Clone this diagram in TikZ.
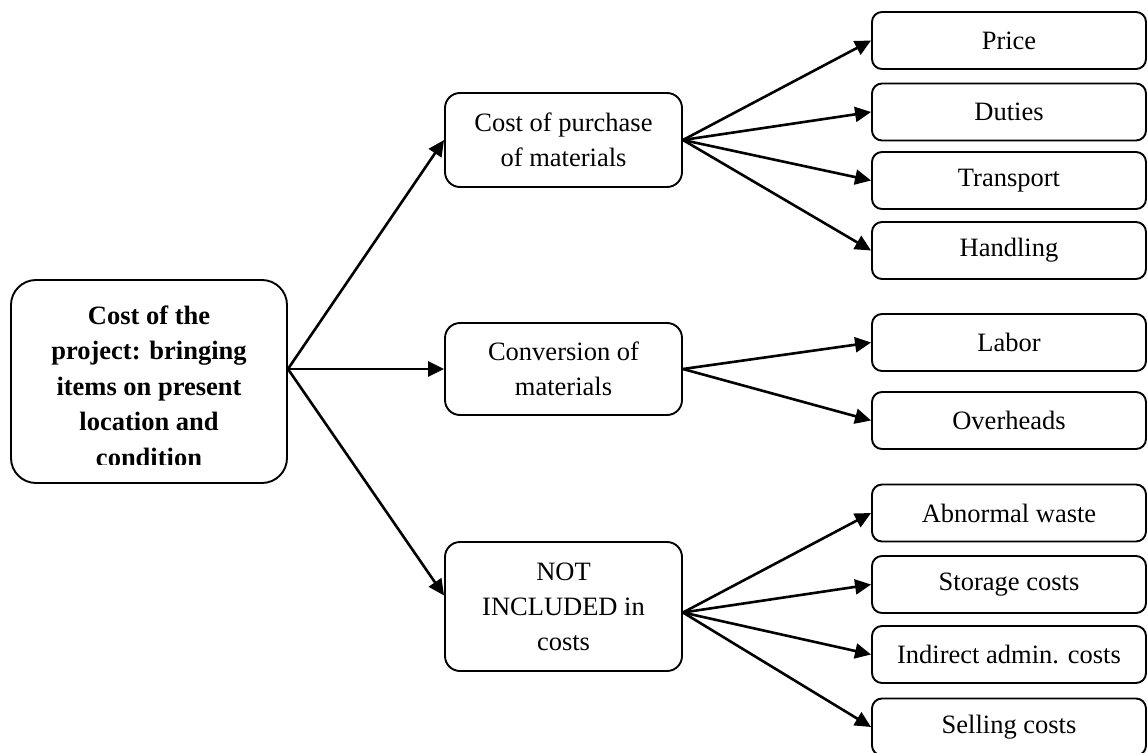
\documentclass[tikz,border=0pt]{standalone}
\usepackage{fontspec}
\setmainfont{Liberation Serif}
\usetikzlibrary{arrows.meta}
\begin{document}
\begin{tikzpicture}[x=1pt,y=-1pt,
  txt/.style={font=\fontsize{26.5}{35}\selectfont, align=center, inner sep=0pt},
  rootbox/.style={draw, line width=1.9pt, rounded corners=25pt,
    minimum width=276pt, minimum height=203pt},
  midbox/.style={draw, line width=1.9pt, rounded corners=15pt,
    minimum width=237pt, txt},
  leafbox/.style={draw, line width=1.9pt, rounded corners=10pt,
    minimum width=274pt, minimum height=57pt, txt},
  link/.style={-{Triangle[length=16pt,width=15pt]}, line width=2.6pt}]
  % page frame; boxes running past the edge are cut off
  \clip (0,0) rectangle (1148,752);

  % root
  \node[rootbox] (root) at (149,381.5) {};
  \begin{scope}
    \clip (11,280) rectangle (287,464);
    \node[txt, font=\fontsize{26.5}{35.5}\selectfont\bfseries] (roottext) at (149,386)
      {Cost of the\\project: bringing\\items on present\\location and\\condition};
  \end{scope}

  % middle level
  \node[midbox, minimum height=94pt] (purchase) at (563.5,140) {Cost of purchase\\of materials};
  \node[midbox, minimum height=92pt] (conv) at (563.5,369) {Conversion of\\materials};
  \node[midbox, minimum height=129pt] (notinc) at (563.5,606.5) {NOT\\INCLUDED in\\costs};

  % leaves
  \node[leafbox] (price)    at (1009,40.5)  {Price};
  \node[leafbox] (duties)   at (1009,112)   {Duties};
  \node[leafbox] (transp)   at (1009,180.5) {Transport};
  \node[leafbox] (handl)    at (1009,250.5) {Handling};
  \node[leafbox] (labor)    at (1009,342.5) {Labor};
  \node[leafbox] (overh)    at (1009,420.5) {Overheads};
  \node[leafbox] (abnorm)   at (1009,513)   {Abnormal waste};
  \node[leafbox] (storage)  at (1009,584.5) {Storage costs};
  \node[leafbox] (indirect) at (1009,654.5) {Indirect admin. costs};
  \node[leafbox] (selling)  at (1009,727)   {Selling costs};

  % root to middle level
  \coordinate (rootout) at (root.east |- conv.west);
  \draw[link] (rootout) -- (purchase.west);
  \draw[link] (rootout) -- (conv.west);
  \draw[link] (rootout) -- ([yshift=11pt]notinc.west);

  % middle level to leaves
  \foreach \t in {price,duties,transp,handl}
    \draw[link] (purchase.east) -- (\t.west);
  \foreach \t in {labor,overh}
    \draw[link] (conv.east) -- (\t.west);
  \foreach \t in {abnorm,storage,indirect,selling}
    \draw[link] ([yshift=-6pt]notinc.east) -- (\t.west);
\end{tikzpicture}
\end{document}
